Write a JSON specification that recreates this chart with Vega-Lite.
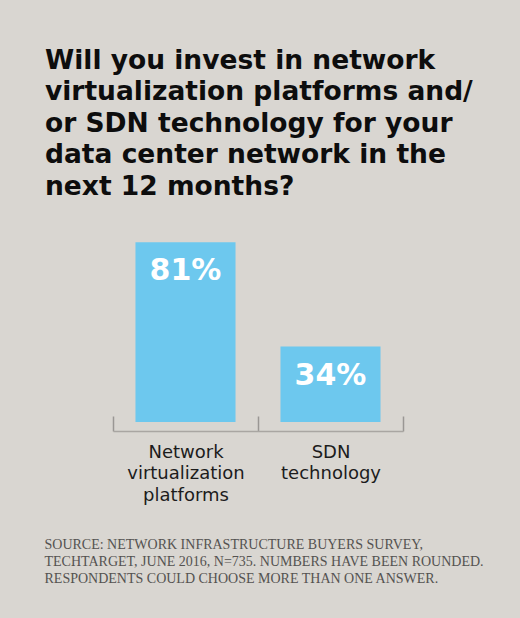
{
  "$schema": "https://vega.github.io/schema/vega-lite/v6.json",
  "autosize": "none",
  "width": 290,
  "height": 222,
  "padding": {"left": 113, "top": 200, "right": 117, "bottom": 196},
  "background": "#d9d6d1",
  "title": {
    "text": [
      "Will you invest in network",
      "virtualization platforms and/",
      "or SDN technology for your",
      "data center network in the",
      "next 12 months?"
    ],
    "anchor": "start",
    "frame": "group",
    "orient": "top",
    "baseline": "bottom",
    "offset": 0,
    "dx": -68,
    "dy": 27,
    "font": "DejaVu Sans",
    "fontSize": 26.5,
    "fontWeight": "bold",
    "lineHeight": 31.5,
    "color": "#0d0d0d"
  },
  "data": {
    "values": [
      {"answer": "Network virtualization platforms", "share": 0.81},
      {"answer": "SDN technology", "share": 0.34}
    ]
  },
  "encoding": {
    "x": {
      "field": "answer",
      "type": "nominal",
      "sort": null,
      "scale": {"paddingInner": 0, "paddingOuter": 0},
      "axis": {
        "orient": "bottom",
        "offset": 9,
        "labelAngle": 0,
        "labelExpr": "split(datum.label, ' ')",
        "labelFont": "DejaVu Sans",
        "labelFontSize": 18,
        "labelLineHeight": 21.5,
        "labelColor": "#1c1c1c",
        "labelPadding": 27,
        "labelBaseline": "top",
        "tickBand": "extent",
        "tickSize": -15,
        "tickColor": "#9a9794",
        "tickWidth": 1.5,
        "domainColor": "#a9a6a2",
        "domainWidth": 1.5,
        "title": [
          "SOURCE: NETWORK INFRASTRUCTURE BUYERS SURVEY,",
          "TECHTARGET, JUNE 2016, N=735. NUMBERS HAVE BEEN ROUNDED.",
          "RESPONDENTS COULD CHOOSE MORE THAN ONE ANSWER."
        ],
        "titleFont": "Liberation Serif",
        "titleFontSize": 14,
        "titleFontWeight": "normal",
        "titleColor": "#545250",
        "titleLineHeight": 17,
        "titleAnchor": "start",
        "titleAlign": "left",
        "titleBaseline": "alphabetic",
        "titleX": -69,
        "titleY": 117
      }
    },
    "y": {
      "field": "share",
      "type": "quantitative",
      "scale": {"domain": [0, 1]},
      "axis": null
    }
  },
  "layer": [
    {"mark": {"type": "bar", "color": "#6dc8ee", "width": {"band": 0.69}}},
    {
      "mark": {
        "type": "text",
        "color": "#ffffff",
        "font": "DejaVu Sans",
        "fontSize": 30,
        "fontWeight": "bold",
        "baseline": "alphabetic",
        "dy": 38
      },
      "encoding": {
        "text": {"field": "share", "type": "quantitative", "format": ".0%"}
      }
    }
  ],
  "config": {
    "view": {"stroke": null},
    "axis": {"grid": false}
  }
}
